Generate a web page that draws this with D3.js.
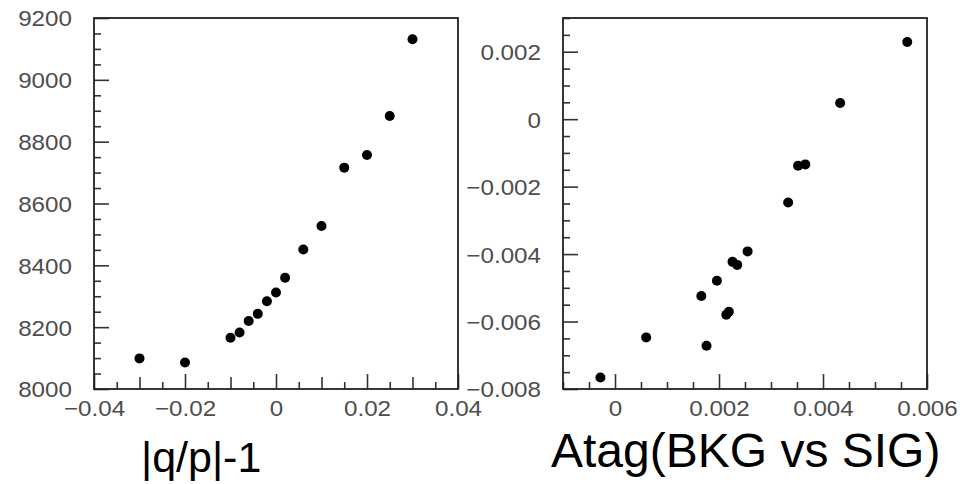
<!DOCTYPE html>
<html>
<head>
<meta charset="utf-8">
<script src="https://cdn.jsdelivr.net/npm/d3@7"></script>
<style>
  html, body { margin: 0; padding: 0; background: #fff; }
  svg { display: block; }
  text { font-family: "Liberation Sans", Arial, Helvetica, sans-serif; }
</style>
</head>
<body>
<svg id="chart" width="970" height="484"></svg>
<script>
// ---------- data ----------
// Left panel: x = |q/p|-1, y = value
const leftX = [-0.03, -0.02, -0.010, -0.008, -0.006, -0.004, -0.002, 0.000, 0.002, 0.006, 0.010, 0.015, 0.020, 0.025, 0.030];
const leftY = [8099, 8086, 8166, 8183, 8220, 8243, 8284, 8312, 8360, 8451, 8527, 8716, 8757, 8883, 9131];

// Right panel: x = Atag(BKG vs SIG), y = value
const rightX = [-0.00028, 0.00060, 0.00166, 0.00176, 0.00196, 0.00214, 0.00219, 0.00226, 0.00235, 0.00255, 0.00333, 0.00352, 0.00366, 0.00433, 0.00562];
const rightY = [-0.00766, -0.00647, -0.00524, -0.00672, -0.00479, -0.00580, -0.00571, -0.00423, -0.00432, -0.00392, -0.00247, -0.00138, -0.00134, 0.00048, 0.00229];

// Axis ranges and tick labels
const leftXDomain = [-0.04, 0.04];
const leftYDomain = [8000, 9200];
const leftXTicks = [-0.04, -0.02, 0, 0.02, 0.04];
const leftYTicks = [8000, 8200, 8400, 8600, 8800, 9000, 9200];

const rightXDomain = [-0.001, 0.006];
const rightYDomain = [-0.008, 0.003];
const rightXTicks = [0, 0.002, 0.004, 0.006];
const rightYTicks = [-0.008, -0.006, -0.004, -0.002, 0, 0.002];

const titles = ["|q/p|-1", "Atag(BKG vs SIG)"];

// ---------- drawing ----------
const svg = d3.select("#chart");
const fmt = d => (Math.abs(d) < 1e-12 ? "0" : d3.format("~g")(+d.toPrecision(6)));
const near = (v, arr, eps) => arr.some(a => Math.abs(a - v) < eps);

function stretch(sel, k) {
  sel.each(function () {
    const w = this.getComputedTextLength();
    d3.select(this).attr("textLength", w * k).attr("lengthAdjust", "spacingAndGlyphs");
  });
}

function panel(cfg) {
  const { x0, x1, y0, y1 } = cfg;
  const x = d3.scaleLinear().domain(cfg.xDomain).range([x0, x1]);
  const y = d3.scaleLinear().domain(cfg.yDomain).range([y1, y0]);
  const g = svg.append("g");

  const xStep = cfg.xMinor, yStep = cfg.yMinor;
  const xMinorVals = d3.range(Math.round(cfg.xDomain[0] / xStep), Math.round(cfg.xDomain[1] / xStep) + 1)
    .map(i => +(i * xStep).toPrecision(8)).filter(v => !near(v, cfg.xTicks, xStep / 10));
  const yMinorVals = d3.range(Math.round(cfg.yDomain[0] / yStep), Math.round(cfg.yDomain[1] / yStep) + 1)
    .map(i => +(i * yStep).toPrecision(8)).filter(v => !near(v, cfg.yTicks, yStep / 10));

  const xMed = xMinorVals.filter(v => cfg.xMedium && Math.abs(v / cfg.xMedium - Math.round(v / cfg.xMedium)) < 1e-6);
  const xSmall = xMinorVals.filter(v => !xMed.includes(v));

  const tickStyle = sel => {
    sel.select(".domain").remove();
    sel.selectAll(".tick line").attr("stroke", "#333").attr("stroke-width", 1.6);
  };

  g.append("g").attr("transform", `translate(0,${y1})`)
    .call(d3.axisBottom(x).tickValues(xSmall).tickSize(-7).tickFormat(""))
    .call(tickStyle);
  g.append("g").attr("transform", `translate(0,${y1})`)
    .call(d3.axisBottom(x).tickValues(xMed).tickSize(-12).tickFormat(""))
    .call(tickStyle);
  const xa = g.append("g").attr("transform", `translate(0,${y1})`)
    .call(d3.axisBottom(x).tickValues(cfg.xTicks).tickSize(-15).tickPadding(0).tickFormat(fmt))
    .call(tickStyle);
  xa.selectAll(".tick text")
    .attr("y", 27).attr("dy", 0)
    .attr("fill", "#4d4d4d").attr("font-size", 22)
    .attr("font-family", "Liberation Sans, Arial, sans-serif")
    .call(stretch, 1.1);

  g.append("g").attr("transform", `translate(${x0},0)`)
    .call(d3.axisLeft(y).tickValues(yMinorVals).tickSize(-7).tickFormat(""))
    .call(tickStyle);
  const ya = g.append("g").attr("transform", `translate(${x0},0)`)
    .call(d3.axisLeft(y).tickValues(cfg.yTicks).tickSize(-15).tickPadding(0).tickFormat(fmt))
    .call(tickStyle);
  ya.selectAll(".tick text")
    .attr("x", -22).attr("dy", "0.36em")
    .attr("fill", "#4d4d4d").attr("font-size", 22)
    .attr("font-family", "Liberation Sans, Arial, sans-serif")
    .call(stretch, 1.1);

  g.append("rect")
    .attr("x", x0).attr("y", y0).attr("width", x1 - x0).attr("height", y1 - y0)
    .attr("fill", "none").attr("stroke", "#222").attr("stroke-width", 1.8);

  g.append("g").selectAll("circle")
    .data(cfg.xs.map((d, i) => [d, cfg.ys[i]]))
    .join("circle")
    .attr("cx", d => x(d[0])).attr("cy", d => y(d[1]))
    .attr("r", 5).attr("fill", "#000");

  svg.append("text")
    .attr("x", cfg.titleX).attr("y", cfg.titleY)
    .attr("font-size", cfg.titleSize).attr("fill", "#000")
    .attr("font-family", "Liberation Sans, Arial, sans-serif")
    .text(cfg.title);
}

panel({
  x0: 94, x1: 458, y0: 18, y1: 389,
  xDomain: leftXDomain, yDomain: leftYDomain,
  xTicks: leftXTicks, yTicks: leftYTicks,
  xMinor: 0.005, xMedium: 0.01, yMinor: 50,
  xs: leftX, ys: leftY,
  title: titles[0], titleX: 141, titleY: 472, titleSize: 43
});

panel({
  x0: 563, x1: 927, y0: 18, y1: 389,
  xDomain: rightXDomain, yDomain: rightYDomain,
  xTicks: rightXTicks, yTicks: rightYTicks,
  xMinor: 0.0005, xMedium: null, yMinor: 0.0005,
  xs: rightX, ys: rightY,
  title: titles[1], titleX: 551, titleY: 467, titleSize: 48
});
</script>
</body>
</html>
